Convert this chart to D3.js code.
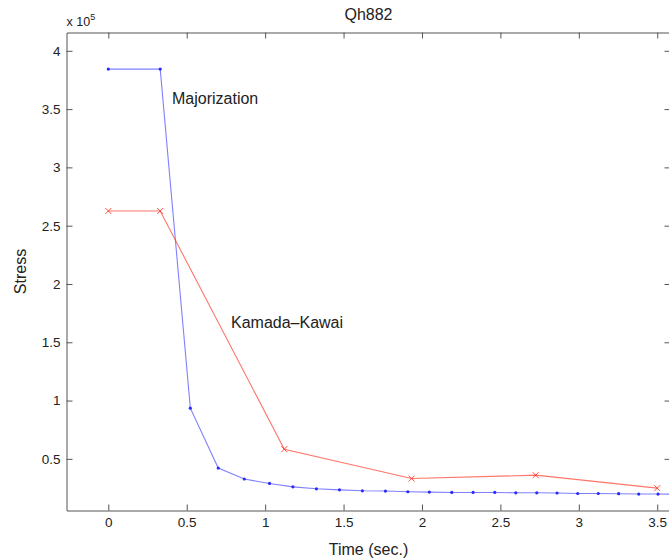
<!DOCTYPE html>
<html>
<head>
<meta charset="utf-8">
<script src="https://cdn.jsdelivr.net/npm/d3@7"></script>
<style>
  html, body { margin: 0; padding: 0; background: #fff; overflow: hidden; }
  svg { display: block; font-family: "Liberation Sans", Arial, Helvetica, sans-serif; }
</style>
</head>
<body>
<svg id="chart" width="669" height="559"></svg>
<script>
// Stress over time for the Qh882 graph, two layout algorithms
const title = "Qh882";
const xLabel = "Time (sec.)";
const yLabel = "Stress";

const majTime = [0, 0.331, 0.523, 0.701, 0.867, 1.028, 1.177, 1.327, 1.474, 1.620, 1.767, 1.910,
  2.047, 2.190, 2.326, 2.464, 2.598, 2.732, 2.861, 2.993, 3.124, 3.254, 3.382, 3.505, 3.640];
const majStress = [384300, 384300, 93500, 42100, 32700, 28900, 26000, 24300, 23400, 22600, 22400, 21800,
  21500, 21200, 21200, 21200, 20900, 20900, 20700, 20300, 20300, 20100, 19800, 19800, 19700];

const kkTime = [0, 0.331, 1.122, 1.934, 2.725, 3.500];
const kkStress = [262600, 262600, 58300, 33100, 36000, 24900];

const xTicks = [0, 0.5, 1, 1.5, 2, 2.5, 3, 3.5];
const yTicks = [50000, 100000, 150000, 200000, 250000, 300000, 350000, 400000];
const yExponent = 5;

const svg = d3.select("#chart");
const m = { left: 66.5, right: 670.5, top: 32.5, bottom: 510.5 };

const x = d3.scaleLinear().domain([-0.2665, 3.5845]).range([m.left, m.right]);
const y = d3.scaleLinear().domain([5700, 415700]).range([m.bottom, m.top]);

const axisColor = "#555";
const tickLen = 6;

// Box and inward ticks
const g = svg.append("g");
g.append("g").attr("transform", `translate(0,${m.bottom})`)
  .call(d3.axisBottom(x).tickValues(xTicks).tickSizeInner(-tickLen).tickSizeOuter(0)
    .tickPadding(7).tickFormat(d3.format("")));
g.append("g").attr("transform", `translate(0,${m.top})`)
  .call(d3.axisTop(x).tickValues(xTicks).tickSizeInner(-tickLen).tickSizeOuter(0).tickFormat(""));
g.append("g").attr("transform", `translate(${m.left},0)`)
  .call(d3.axisLeft(y).tickValues(yTicks).tickSizeInner(-tickLen).tickSizeOuter(0)
    .tickPadding(6).tickFormat(d => d3.format("")(d / Math.pow(10, yExponent))));
g.append("g").attr("transform", `translate(${m.right},0)`)
  .call(d3.axisRight(y).tickValues(yTicks).tickSizeInner(-tickLen).tickSizeOuter(0).tickFormat(""));

g.selectAll(".domain").attr("stroke", axisColor).attr("stroke-width", 1);
g.selectAll(".tick line").attr("stroke", axisColor).attr("stroke-width", 1);
g.selectAll(".tick text").attr("fill", "#222").attr("font-size", 13.5)
  .attr("font-family", "'Liberation Sans', Arial, sans-serif");

// Exponent marker above the y axis
const expText = svg.append("text").attr("x", m.left).attr("y", 26)
  .attr("font-size", 12.5).attr("fill", "#222");
expText.append("tspan").text("x 10");
expText.append("tspan").attr("dy", -6).attr("font-size", 9).text(String(yExponent));

// Title and axis labels
svg.append("text").attr("x", (m.left + m.right) / 2).attr("y", 20).attr("text-anchor", "middle")
  .attr("font-size", 16).attr("fill", "#222").text(title);
svg.append("text").attr("x", (m.left + m.right) / 2).attr("y", 555).attr("text-anchor", "middle")
  .attr("font-size", 16).attr("fill", "#222").text(xLabel);
svg.append("text").attr("transform", `translate(26,${(m.top + m.bottom) / 2}) rotate(-90)`)
  .attr("text-anchor", "middle").attr("font-size", 16).attr("fill", "#222").text(yLabel);

// Series
const plot = svg.append("g");
const line = d3.line().x(d => x(d[0])).y(d => y(d[1]));

const majData = majTime.map((t, i) => [t, majStress[i]]);
const kkData = kkTime.map((t, i) => [t, kkStress[i]]);

plot.append("path").datum(majData).attr("d", line)
  .attr("fill", "none").attr("stroke", "#4a4aff").attr("stroke-opacity", 0.7).attr("stroke-width", 1.1);
plot.selectAll("circle.maj").data(majData).enter().append("circle").attr("class", "maj")
  .attr("cx", d => x(d[0])).attr("cy", d => y(d[1])).attr("r", 1.6).attr("fill", "#2a2aff");

plot.append("path").datum(kkData).attr("d", line)
  .attr("fill", "none").attr("stroke", "#ff3a2a").attr("stroke-opacity", 0.7).attr("stroke-width", 1.1);
const s = 3;
plot.selectAll("path.kk").data(kkData).enter().append("path").attr("class", "kk")
  .attr("d", d => {
    const cx = x(d[0]), cy = y(d[1]);
    return `M${cx - s},${cy - s}L${cx + s},${cy + s}M${cx - s},${cy + s}L${cx + s},${cy - s}`;
  })
  .attr("stroke", "#ff2a1a").attr("stroke-opacity", 0.8).attr("stroke-width", 1).attr("fill", "none");

// Series labels
svg.append("text").attr("x", 172).attr("y", 104).attr("font-size", 16).attr("fill", "#222").text("Majorization");
svg.append("text").attr("x", 231).attr("y", 328).attr("font-size", 16).attr("fill", "#222").text("Kamada\u2013Kawai");
</script>
</body>
</html>
